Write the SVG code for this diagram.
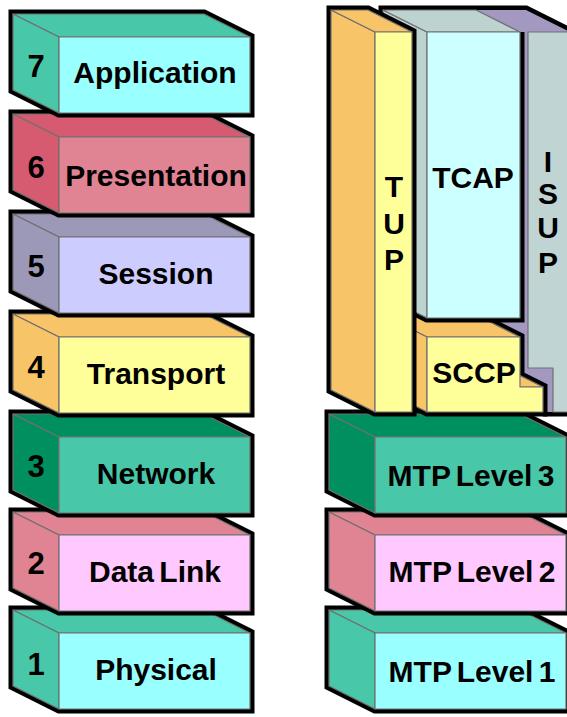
<svg xmlns="http://www.w3.org/2000/svg" width="567" height="717" viewBox="0 0 567 717">
  <style>
    .halo { fill:#000; stroke:#000; stroke-width:9; stroke-linejoin:miter; }
    .halo-line { fill:none; stroke:#000; stroke-width:9; stroke-linejoin:miter; stroke-linecap:butt; }
    .edge { stroke:#707070; stroke-width:1.2; stroke-linejoin:round; }
    .lbl { font-family:"Liberation Sans", Arial, Helvetica, sans-serif; font-weight:bold; font-size:30px; text-anchor:middle; fill:#000; word-spacing:-3px; }
    .num { font-size:31px; }
    /* palette */
    .teal { fill:#48C8A8; }  .cyan { fill:#99FFFF; }
    .rose { fill:#D65A70; }  .pink { fill:#E08494; }
    .slate { fill:#9C99B8; } .lilac { fill:#CCCCFF; }
    .amber { fill:#F8C468; } .lemon { fill:#FFFF99; }
    .green { fill:#008F5F; }
    .blush { fill:#FFC8FF; }
    .sage { fill:#BCD3D0; }  .ice { fill:#CCFFFF; }
    .mauve { fill:#A399C0; } .ash { fill:#C0D4D4; }
  </style>

  <!-- OSI reference model stack (front face 191 x 76, depth 46/23) -->
  <g id="osi-stack">
    <g id="osi-1" transform="translate(0,633)">
      <polygon class="halo" points="13,-23 204,-23 250,0 250,76 59,76 13,53"/>
      <polygon class="edge teal" points="13,-23 204,-23 250,0 59,0"/>
      <polygon class="edge teal" points="13,-23 59,0 59,76 13,53"/>
      <rect class="edge cyan" x="59" y="0" width="191" height="76"/>
      <text class="lbl num" x="36" y="42">1</text>
      <text class="lbl" x="156" y="47">Physical</text>
    </g>
    <g id="osi-2" transform="translate(0,535)">
      <polygon class="halo" points="13,-23 204,-23 250,0 250,76 59,76 13,53"/>
      <polygon class="edge pink" points="13,-23 204,-23 250,0 59,0"/>
      <polygon class="edge pink" points="13,-23 59,0 59,76 13,53"/>
      <rect class="edge blush" x="59" y="0" width="191" height="76"/>
      <text class="lbl num" x="36" y="39">2</text>
      <text class="lbl" x="155" y="47">Data Link</text>
    </g>
    <g id="osi-3" transform="translate(0,437)">
      <polygon class="halo" points="13,-23 204,-23 250,0 250,76 59,76 13,53"/>
      <polygon class="edge green" points="13,-23 204,-23 250,0 59,0"/>
      <polygon class="edge green" points="13,-23 59,0 59,76 13,53"/>
      <rect class="edge teal" x="59" y="0" width="191" height="76"/>
      <text class="lbl num" x="36" y="40">3</text>
      <text class="lbl" x="156" y="47">Network</text>
    </g>
    <g id="osi-4" transform="translate(0,337)">
      <polygon class="halo" points="13,-23 204,-23 250,0 250,76 59,76 13,53"/>
      <polygon class="edge amber" points="13,-23 204,-23 250,0 59,0"/>
      <polygon class="edge amber" points="13,-23 59,0 59,76 13,53"/>
      <rect class="edge lemon" x="59" y="0" width="191" height="76"/>
      <text class="lbl num" x="36" y="41">4</text>
      <text class="lbl" x="156" y="47">Transport</text>
    </g>
    <g id="osi-5" transform="translate(0,237)">
      <polygon class="halo" points="13,-23 204,-23 250,0 250,76 59,76 13,53"/>
      <polygon class="edge slate" points="13,-23 204,-23 250,0 59,0"/>
      <polygon class="edge slate" points="13,-23 59,0 59,76 13,53"/>
      <rect class="edge lilac" x="59" y="0" width="191" height="76"/>
      <text class="lbl num" x="36" y="40">5</text>
      <text class="lbl" x="156" y="47">Session</text>
    </g>
    <g id="osi-6" transform="translate(0,137)">
      <polygon class="halo" points="13,-23 204,-23 250,0 250,76 59,76 13,53"/>
      <polygon class="edge rose" points="13,-23 204,-23 250,0 59,0"/>
      <polygon class="edge rose" points="13,-23 59,0 59,76 13,53"/>
      <rect class="edge pink" x="59" y="0" width="191" height="76"/>
      <text class="lbl num" x="36" y="41">6</text>
      <text class="lbl" x="156" y="49">Presentation</text>
    </g>
    <g id="osi-7" transform="translate(0,37)">
      <polygon class="halo" points="13,-23 204,-23 250,0 250,76 59,76 13,53"/>
      <polygon class="edge teal" points="13,-23 204,-23 250,0 59,0"/>
      <polygon class="edge teal" points="13,-23 59,0 59,76 13,53"/>
      <rect class="edge cyan" x="59" y="0" width="191" height="76"/>
      <text class="lbl num" x="36" y="40">7</text>
      <text class="lbl" x="155" y="46">Application</text>
    </g>
  </g>

  <!-- SS7 protocol stack -->
  <g id="ss7-stack">
    <g id="mtp-1" transform="translate(0,633)">
      <polygon class="halo" points="329,-23 520,-23 566,0 566,76 375,76 329,53"/>
      <polygon class="edge teal" points="329,-23 520,-23 566,0 375,0"/>
      <polygon class="edge teal" points="329,-23 375,0 375,76 329,53"/>
      <rect class="edge cyan" x="375" y="0" width="191" height="76"/>
      <text class="lbl" x="472" y="49">MTP Level 1</text>
    </g>
    <g id="mtp-2" transform="translate(0,535)">
      <polygon class="halo" points="329,-23 520,-23 566,0 566,76 375,76 329,53"/>
      <polygon class="edge pink" points="329,-23 520,-23 566,0 375,0"/>
      <polygon class="edge pink" points="329,-23 375,0 375,76 329,53"/>
      <rect class="edge blush" x="375" y="0" width="191" height="76"/>
      <text class="lbl" x="472" y="47">MTP Level 2</text>
    </g>
    <g id="mtp-3" transform="translate(0,437)">
      <polygon class="halo" points="329,-23 520,-23 566,0 566,76 375,76 329,53"/>
      <polygon class="edge green" points="329,-23 520,-23 566,0 375,0"/>
      <polygon class="edge green" points="329,-23 375,0 375,76 329,53"/>
      <rect class="edge teal" x="375" y="0" width="191" height="76"/>
      <text class="lbl" x="471" y="49">MTP Level 3</text>
    </g>

    <!-- ISUP: L-shaped column, partly hidden behind TCAP and SCCP -->
    <g id="isup">
      <path class="halo-line" d="M476,10 L526,10 L570,32 L570,412 L543,412"/>
      <polygon class="mauve" points="476,10 526,10 570,32 528,32 528,368 553,368 553,412 476,412"/>
      <polygon class="edge ash" points="528,32 570,32 570,412 553,412 553,368 528,368"/>
      <text class="lbl" x="548" y="172">I</text>
      <text class="lbl" x="548" y="204">S</text>
      <text class="lbl" x="548" y="238">U</text>
      <text class="lbl" x="548" y="273">P</text>
    </g>

    <!-- SCCP: stepped block under TCAP -->
    <g id="sccp">
      <polygon class="halo" points="383,315 476,315 520,337 520,375.5 543,387 543,412 427,412 383,390"/>
      <polygon class="edge amber" points="383,315 476,315 520,337 427,337"/>
      <polygon class="edge amber" points="383,315 427,337 427,412 383,390"/>
      <polygon class="edge amber" points="476,365 499,365 543,387 520,387"/>
      <polygon class="edge lemon" points="427,337 520,337 520,387 543,387 543,412 427,412"/>
      <text class="lbl" x="474" y="383">SCCP</text>
    </g>

    <g id="tcap">
      <path class="halo-line" d="M520,32 L520,318 L427,318 L383,296 L383,10 L476,10"/>
      <polygon class="edge sage" points="383,10 427,32 427,318 383,296"/>
      <polygon class="edge sage" points="383,10 476,10 520,32 427,32"/>
      <rect class="edge ice" x="427" y="32" width="93" height="286"/>
      <text class="lbl" x="473" y="188">TCAP</text>
    </g>

    <g id="tup">
      <polygon class="halo" points="331,10 368,10 412,32 412,412 375,412 331,390"/>
      <polygon class="edge amber" points="331,10 375,32 375,412 331,390"/>
      <polygon class="edge amber" points="331,10 368,10 412,32 375,32"/>
      <rect class="edge lemon" x="375" y="32" width="37" height="380"/>
      <text class="lbl" x="394" y="197">T</text>
      <text class="lbl" x="394" y="234">U</text>
      <text class="lbl" x="394" y="270">P</text>
    </g>
  </g>
</svg>
